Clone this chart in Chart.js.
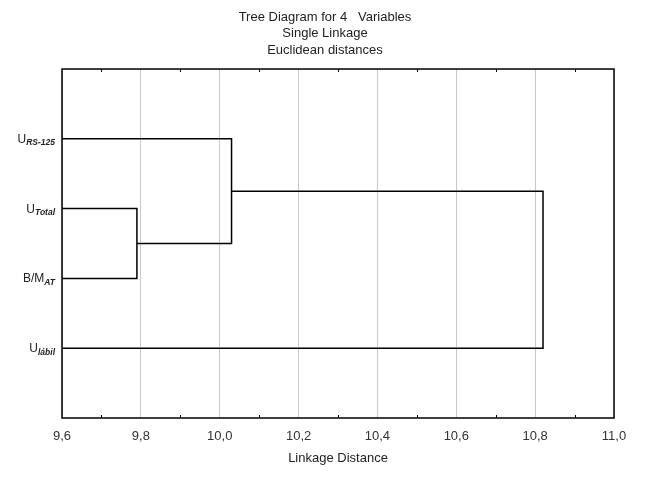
<!DOCTYPE html>
<html>
<head>
<meta charset="utf-8">
<script src="https://cdn.jsdelivr.net/npm/chart.js@4.4.0/dist/chart.umd.min.js"></script>
<style>
  body { margin: 0; background: #fff; }
  #wrap { width: 650px; height: 478px; }
</style>
</head>
<body>
<div id="wrap"><canvas id="treeChart"></canvas></div>
<script>
// Folhas (de cima para baixo): texto base + subscrito
const leafBase = ['U', 'U', 'B/M', 'U'];
const leafSub = ['RS-125', 'Total', 'AT', 'lábil'];

// Junções (single linkage): nós 0-3 são folhas, nós 4.. são clusters
const mergeFirst = [1, 0, 5];
const mergeSecond = [2, 4, 3];
const mergeDistance = [9.79, 10.03, 10.82];

const xTicks = [9.6, 9.8, 10.0, 10.2, 10.4, 10.6, 10.8, 11.0];
const titleLines = ['Tree Diagram for 4   Variables', 'Single Linkage', 'Euclidean distances'];

const fontFamily = '"Liberation Sans", Arial, sans-serif';
const xMin = xTicks[0];
const xMax = xTicks[xTicks.length - 1];

// posição vertical e altura de cada nó
const nodeY = leafBase.map((_, i) => i + 1);
const nodeX = leafBase.map(() => xMin);
const datasets = [];
mergeDistance.forEach((d, k) => {
    const a = mergeFirst[k], b = mergeSecond[k];
    datasets.push({
        data: [
            { x: nodeX[a], y: nodeY[a] },
            { x: d, y: nodeY[a] },
            { x: d, y: nodeY[b] },
            { x: nodeX[b], y: nodeY[b] }
        ],
        showLine: true,
        borderColor: '#000',
        borderWidth: 1.5,
        pointRadius: 0,
        tension: 0
    });
    nodeY.push((nodeY[a] + nodeY[b]) / 2);
    nodeX.push(d);
});

// moldura, marcas menores e rótulos com subscrito
const framePlugin = {
    id: 'frame',
    afterDraw(chart) {
        const { ctx, chartArea: a, scales } = chart;
        ctx.save();
        ctx.strokeStyle = '#000';
        ctx.lineWidth = 1.5;
        ctx.strokeRect(a.left, a.top, a.right - a.left, a.bottom - a.top);

        ctx.lineWidth = 1;
        for (let i = 0; i < xTicks.length - 1; i++) {
            const px = Math.round(scales.x.getPixelForValue((xTicks[i] + xTicks[i + 1]) / 2)) + 0.5;
            ctx.beginPath();
            ctx.moveTo(px, a.top); ctx.lineTo(px, a.top + 3);
            ctx.moveTo(px, a.bottom); ctx.lineTo(px, a.bottom - 3);
            ctx.stroke();
        }

        ctx.fillStyle = '#222';
        ctx.textBaseline = 'alphabetic';
        ctx.textAlign = 'left';
        leafBase.forEach((base, i) => {
            const py = scales.y.getPixelForValue(i + 1);
            const right = a.left - 7;
            ctx.font = 'bold italic 8.5px ' + fontFamily;
            const subW = ctx.measureText(leafSub[i]).width;
            ctx.fillText(leafSub[i], right - subW, py + 6.5);
            ctx.font = '12px ' + fontFamily;
            const baseW = ctx.measureText(base).width;
            ctx.fillText(base, right - subW - baseW, py + 4);
        });
        ctx.restore();
    }
};

const ctxTree = document.getElementById('treeChart').getContext('2d');
new Chart(ctxTree, {
    type: 'scatter',
    data: { datasets: datasets },
    options: {
        responsive: true,
        maintainAspectRatio: false,
        animation: false,
        layout: { padding: 0 },
        plugins: {
            legend: { display: false },
            tooltip: { enabled: false },
            title: {
                display: true,
                text: titleLines,
                color: '#222',
                font: { family: fontFamily, size: 13, weight: 'normal', lineHeight: 1.27 },
                padding: { top: 9, bottom: 10.5 }
            }
        },
        scales: {
            x: {
                type: 'linear',
                min: xMin,
                max: xMax,
                afterBuildTicks(scale) {
                    scale.ticks = xTicks.map(v => ({ value: v }));
                },
                afterFit(scale) { scale.height = 60; },
                grid: { color: '#c8c8c8', lineWidth: 1, drawTicks: false },
                border: { display: false },
                ticks: {
                    padding: 11,
                    color: '#333',
                    font: { family: fontFamily, size: 13 },
                    callback: v => v.toFixed(1).replace('.', ',')
                },
                title: {
                    display: true,
                    text: 'Linkage Distance',
                    color: '#222',
                    font: { family: fontFamily, size: 13 },
                    padding: { top: 2, bottom: 12 }
                }
            },
            y: {
                type: 'linear',
                min: 0,
                max: leafBase.length + 1,
                reverse: true,
                afterFit(scale) { scale.width = 62; },
                grid: { display: false },
                border: { display: false },
                ticks: { display: false }
            },
            yRight: {
                type: 'linear',
                position: 'right',
                display: true,
                afterFit(scale) { scale.width = 36; },
                grid: { display: false },
                border: { display: false },
                ticks: { display: false }
            }
        }
    },
    plugins: [framePlugin]
});
</script>
</body>
</html>
